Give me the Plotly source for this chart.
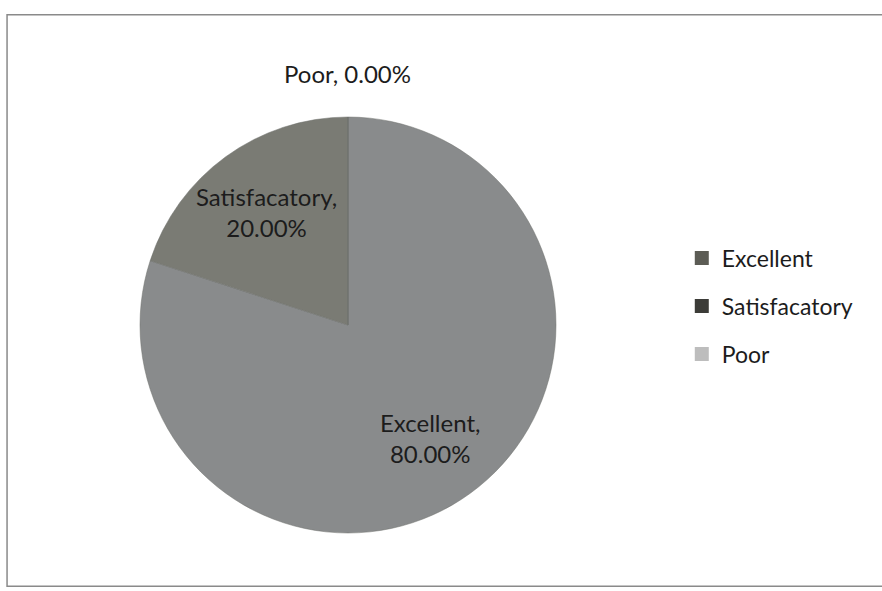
import math
import plotly.graph_objects as go

labels = ["Excellent", "Satisfacatory", "Poor"]
values = [80.0, 20.0, 0.0]
slice_colors = ["#898b8c", "#7a7b74", "#c2c2c2"]
legend_colors = ["#5c5c55", "#3c3c38", "#bdbdbd"]

FONT = "Lato, 'Open Sans', sans-serif"
TXT = "#1c1c1c"
W, H = 882, 591

# pie placement (pixels)
CX, CY, R = 348, 325, 208
dom_x = [(CX - R) / W, (CX + R) / W]
dom_y = [(H - CY - R) / H, (H - CY + R) / H]

fig = go.Figure()
fig.add_trace(go.Pie(
    labels=labels, values=values, sort=False, direction="clockwise", rotation=0,
    marker=dict(colors=slice_colors, line=dict(color="#6f706c", width=0.5)),
    textinfo="none", showlegend=False, hoverinfo="label+percent",
    domain=dict(x=dom_x, y=dom_y),
))

# data labels at slice bisectors (Excel style)
total = sum(values)
start = 0.0
for l, v in zip(labels, values):
    frac = v / total
    mid = (start + frac / 2) * 2 * math.pi  # clockwise from top
    start += frac
    dist = 0.67 * R if v > 0 else 1.21 * R
    px = CX + dist * math.sin(mid)
    py = CY - dist * math.cos(mid)
    txt = f"{l},<br>{v:.2f}%" if v > 0 else f"{l}, {v:.2f}%"
    fig.add_annotation(
        x=px / W, y=1 - py / H, xref="paper", yref="paper",
        xanchor="center", yanchor="middle",
        text=txt, showarrow=False,
        font=dict(family=FONT, size=24, color=TXT),
    )

# legend entries
for l, c in zip(labels, legend_colors):
    fig.add_trace(go.Scatter(
        x=[None], y=[None], mode="markers", name=l, legendgroup=l,
        marker=dict(symbol="square", size=14, color=c),
    ))

fig.add_shape(type="rect", xref="paper", yref="paper",
              x0=0.008, x1=1.02, y0=0.008, y1=0.975,
              line=dict(color="#8a8a8a", width=1.5))

fig.update_layout(
    width=W, height=H,
    margin=dict(l=0, r=0, t=0, b=0),
    paper_bgcolor="white", plot_bgcolor="white",
    xaxis=dict(visible=False), yaxis=dict(visible=False),
    legend=dict(x=0.773, y=0.482, xanchor="left", yanchor="middle",
                traceorder="grouped", tracegroupgap=15,
                font=dict(family=FONT, size=23, color=TXT),
                itemwidth=30, bgcolor="rgba(0,0,0,0)"),
)

fig.write_html("out.html", config={"displayModeBar": False},
               post_script="document.body.style.margin='0';")
